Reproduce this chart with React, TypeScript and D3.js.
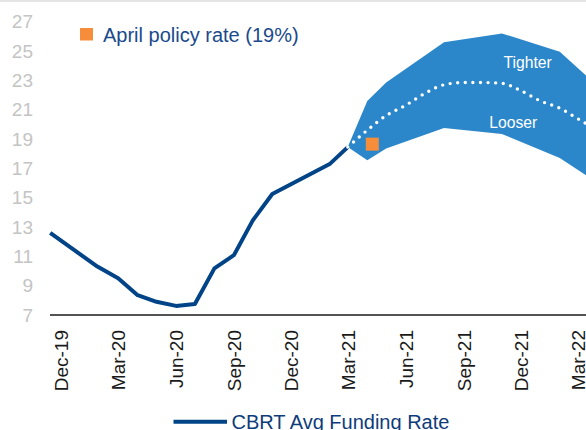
import React, { useEffect, useRef } from "react";
import * as d3 from "d3";

const width = 586;
const height = 430;
const navy = "#004487";
const bandBlue = "#2b87ca";
const orange = "#f68d3b";
const font = "Liberation Sans, Arial, sans-serif";

// CBRT average funding rate (history)
const fundingDates = [
  "2019-11-14", "2020-01-28", "2020-03-01", "2020-04-01", "2020-05-01",
  "2020-06-01", "2020-07-01", "2020-08-01", "2020-09-01", "2020-10-01",
  "2020-11-01", "2021-02-01", "2021-03-01"
];
const fundingValues = [12.6, 10.3, 9.5, 8.35, 7.9, 7.62, 7.75, 10.18, 11.08, 13.45, 15.25, 17.32, 18.45];

// forecast band
const bandDates = ["2021-03-01", "2021-04-01", "2021-05-01", "2021-08-01", "2021-11-01", "2022-02-01", "2022-05-01"];
const bandUpper = [18.45, 21.6, 22.85, 25.6, 26.2, 24.95, 21.5];
const bandLower = [18.45, 17.55, 18.35, 19.75, 19.35, 17.7, 15.2];

// central path (dotted)
const midDates = [
  "2021-03-01", "2021-04-01", "2021-05-01", "2021-06-01", "2021-07-01", "2021-08-01",
  "2021-09-01", "2021-10-01", "2021-11-01", "2021-12-01", "2022-01-01", "2022-02-01",
  "2022-03-01", "2022-04-01"
];
const midValues = [18.45, 19.6, 20.6, 21.3, 22.1, 22.7, 22.85, 22.85, 22.8, 22.3, 21.6, 21.1, 20.4, 19.6];

const policyDate = "2021-04-09";
const policyValue = 18.65;

const tickMonths = [
  "2019-12-01", "2020-03-01", "2020-06-01", "2020-09-01", "2020-12-01",
  "2021-03-01", "2021-06-01", "2021-09-01", "2021-12-01", "2022-03-01"
];
const yTicks = [7, 9, 11, 13, 15, 17, 19, 21, 23, 25, 27];

const parse = d3.timeParse("%Y-%m-%d");

const x = d3.scaleTime()
  .domain([parse("2019-12-01"), parse("2022-03-01")])
  .range([60.9, 577.4]);
const y = d3.scaleLinear().domain([7, 27]).range([315, 21.7]);

export default function App() {
  const xAxisRef = useRef(null);
  const yAxisRef = useRef(null);

  useEffect(() => {
    const yAxis = d3.axisLeft(y).tickValues(yTicks).tickSize(0).tickPadding(17);
    const gy = d3.select(yAxisRef.current).call(yAxis);
    gy.select(".domain").remove();
    gy.selectAll("text")
      .attr("font-family", font)
      .attr("font-size", 19)
      .attr("fill", "#c4c4c4");

    const xAxis = d3.axisBottom(x)
      .tickValues(tickMonths.map(parse))
      .tickSize(0)
      .tickFormat(d3.timeFormat("%b-%y"));
    const gx = d3.select(xAxisRef.current).call(xAxis);
    gx.select(".domain").remove();
    gx.selectAll("text")
      .attr("font-family", font)
      .attr("font-size", 19)
      .attr("fill", "#1a1a1a")
      .attr("transform", "rotate(-90)")
      .attr("text-anchor", "end")
      .attr("x", -15)
      .attr("y", 0)
      .attr("dy", "0.35em");
  }, []);

  const funding = fundingDates.map((d, i) => ({ date: parse(d), v: fundingValues[i] }));
  const band = bandDates.map((d, i) => ({ date: parse(d), hi: bandUpper[i], lo: bandLower[i] }));
  const mid = midDates.map((d, i) => ({ date: parse(d), v: midValues[i] }));

  const line = d3.line().x(d => x(d.date)).y(d => y(d.v));
  const area = d3.area().x(d => x(d.date)).y0(d => y(d.lo)).y1(d => y(d.hi));
  const smooth = d3.line().x(d => x(d.date)).y(d => y(d.v)).curve(d3.curveMonotoneX);

  const px = x(parse(policyDate));
  const py = y(policyValue);

  return (
    <svg width={width} height={height} style={{ position: "absolute", left: 0, top: 0 }}>
      <rect x={0} y={0} width={width} height={height} fill="#fff" />
      <rect x={0} y={0} width={width} height={2} fill="#e4e4e4" />

      <g ref={yAxisRef} transform="translate(50,0)" />

      <path d={area(band)} fill={bandBlue} />
      <path d={line(funding)} fill="none" stroke={navy} strokeWidth={4} strokeLinejoin="round" />
      <path
        d={smooth(mid)}
        fill="none"
        stroke="#fff"
        strokeWidth={3.4}
        strokeDasharray="0 7.6"
        strokeLinecap="round"
      />
      <rect x={px - 6.5} y={py - 6.5} width={13} height={13} fill={orange} />

      <text x={x(parse("2021-12-12"))} y={y(23.86)} textAnchor="middle" fontFamily={font} fontSize={15.7} fill="#fff">Tighter</text>
      <text x={x(parse("2021-11-19"))} y={y(19.73)} textAnchor="middle" fontFamily={font} fontSize={15.7} fill="#fff">Looser</text>

      <line x1={50} x2={width} y1={315} y2={315} stroke="#1a1a1a" strokeWidth={1.3} />
      <g ref={xAxisRef} transform="translate(0,315)" />

      {/* legends */}
      <rect x={80} y={28} width={13} height={12.5} fill={orange} />
      <text x={103} y={41.5} fontFamily={font} fontSize={20} fill="#1a4a8c">April policy rate (19%)</text>

      <line x1={173.5} x2={227} y1={421.7} y2={421.7} stroke={navy} strokeWidth={4} />
      <text x={231.5} y={428.5} fontFamily={font} fontSize={20} fill="#0e3b7a">CBRT Avg Funding Rate</text>
    </svg>
  );
}
